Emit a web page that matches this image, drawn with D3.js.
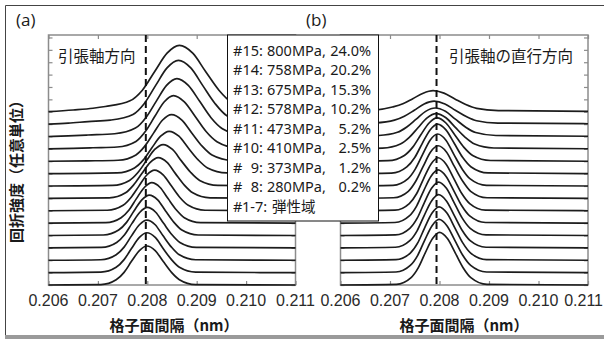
<!DOCTYPE html>
<html>
<head>
<meta charset="utf-8">
<script src="https://cdn.jsdelivr.net/npm/d3@7"></script>
<style>
  html, body { margin: 0; padding: 0; background: #fff; }
  svg { display: block; }
</style>
</head>
<body>
<div id="chart"></div>
<script>
// lattice spacing ticks (nm)
const xTicks = [0.206, 0.207, 0.208, 0.209, 0.210, 0.211];
// profile index #1 .. #15, one vertical unit apart
const yTicks = d3.range(0, 21);
const refSpacing = [0.20797, 0.20794];   // dashed lines (a), (b)

// (a) tensile direction, #1 .. #15 : [d, intensity above own baseline]
const tensileCurves = [
  [[0.206,0],[0.20706,0.03],[0.20737,0.42],[0.20753,1.02],[0.20768,1.91],[0.20784,2.78],[0.20799,3.15],[0.20816,2.78],[0.20832,1.91],[0.20849,1.02],[0.20865,0.43],[0.20898,0.03],[0.211,0]],
  [[0.206,0],[0.20706,0.04],[0.20737,0.43],[0.20753,1.05],[0.20768,1.95],[0.20784,2.84],[0.20799,3.22],[0.20816,2.84],[0.20832,1.95],[0.20849,1.05],[0.20865,0.43],[0.20898,0.04],[0.211,0]],
  [[0.206,0],[0.20706,0.04],[0.20737,0.44],[0.20753,1.06],[0.20768,1.97],[0.20784,2.87],[0.20799,3.25],[0.20816,2.87],[0.20832,1.97],[0.20849,1.06],[0.20865,0.44],[0.20898,0.04],[0.211,0]],
  [[0.206,0],[0.20707,0.04],[0.20738,0.44],[0.20754,1.06],[0.20769,1.98],[0.20785,2.88],[0.20800,3.27],[0.20817,2.88],[0.20833,1.98],[0.20850,1.06],[0.20866,0.44],[0.20899,0.04],[0.211,0]],
  [[0.206,0],[0.20711,0.04],[0.20742,0.44],[0.20758,1.06],[0.20773,1.98],[0.20789,2.88],[0.20804,3.27],[0.20821,2.88],[0.20837,1.98],[0.20854,1.06],[0.20870,0.44],[0.20903,0.04],[0.211,0]],
  [[0.206,0],[0.20716,0.04],[0.20747,0.44],[0.20763,1.06],[0.20778,1.98],[0.20794,2.88],[0.20809,3.27],[0.20826,2.88],[0.20842,1.98],[0.20859,1.06],[0.20875,0.44],[0.20908,0.04],[0.211,0]],
  [[0.206,0],[0.20719,0.04],[0.20751,0.44],[0.20767,1.07],[0.20783,1.99],[0.20799,2.89],[0.20815,3.28],[0.20832,2.89],[0.20849,1.99],[0.20866,1.07],[0.20883,0.44],[0.20917,0.04],[0.211,0]],
  [[0.206,0],[0.20723,0.04],[0.20756,0.45],[0.20772,1.07],[0.20789,2.00],[0.20806,2.91],[0.20822,3.30],[0.20840,2.91],[0.20857,2.00],[0.20875,1.07],[0.20892,0.45],[0.20927,0.04],[0.211,0]],
  [[0.206,0],[0.20730,0.05],[0.20764,0.45],[0.20781,1.09],[0.20798,2.03],[0.20815,2.95],[0.20832,3.35],[0.20851,2.95],[0.20869,2.03],[0.20888,1.09],[0.20906,0.45],[0.20943,0.05],[0.211,0]],
  [[0.206,0],[0.20739,0.06],[0.20774,0.46],[0.20792,1.11],[0.20809,2.07],[0.20827,3.02],[0.20844,3.42],[0.20864,3.02],[0.20883,2.07],[0.20903,1.11],[0.20922,0.46],[0.20961,0.06],[0.211,0]],
  [[0.206,0],[0.2068,0.03],[0.20741,0.08],[0.20777,0.51],[0.20795,1.22],[0.20813,2.29],[0.20831,3.33],[0.20849,3.77],[0.20870,3.33],[0.20890,2.29],[0.20911,1.22],[0.20931,0.51],[0.20972,0.07],[0.211,0]],
  [[0.206,0],[0.2065,0.04],[0.2069,0.09],[0.20739,0.15],[0.20777,0.60],[0.20796,1.40],[0.20815,2.61],[0.20834,3.79],[0.20853,4.30],[0.20875,3.79],[0.20897,2.61],[0.20919,1.40],[0.20941,0.58],[0.20985,0.06],[0.211,0.01]],
  [[0.206,0],[0.2064,0.05],[0.2068,0.12],[0.20734,0.22],[0.20776,0.68],[0.20797,1.52],[0.20818,2.84],[0.20839,4.13],[0.20860,4.68],[0.20883,4.13],[0.20906,2.84],[0.20929,1.52],[0.20952,0.63],[0.20998,0.08],[0.211,0.02]],
  [[0.206,0],[0.2064,0.08],[0.2068,0.20],[0.20725,0.32],[0.20771,0.78],[0.20794,1.67],[0.20817,3.13],[0.20840,4.54],[0.20863,5.15],[0.20888,4.54],[0.20912,3.13],[0.20937,1.67],[0.20961,0.68],[0.21010,0.10],[0.211,0.04]],
  [[0.206,0],[0.2065,0.14],[0.2069,0.28],[0.20715,0.42],[0.20765,0.88],[0.20790,1.74],[0.20815,3.25],[0.20840,4.73],[0.20865,5.36],[0.20892,4.73],[0.20918,3.25],[0.20945,1.74],[0.20971,0.75],[0.21024,0.12],[0.211,0.06]]
];

// (b) perpendicular to tensile axis, #1 .. #15
const transverseCurves = [
  [[0.206,0],[0.20713,0.05],[0.20742,0.57],[0.20757,1.38],[0.20771,2.58],[0.20786,3.75],[0.20800,4.25],[0.20816,3.75],[0.20832,2.58],[0.20848,1.38],[0.20864,0.57],[0.20896,0.05],[0.211,0]],
  [[0.206,0],[0.20712,0.05],[0.20741,0.58],[0.20756,1.40],[0.20770,2.61],[0.20785,3.79],[0.20799,4.30],[0.20815,3.79],[0.20831,2.61],[0.20847,1.40],[0.20863,0.58],[0.20895,0.05],[0.211,0]],
  [[0.206,0],[0.20712,0.05],[0.20741,0.58],[0.20756,1.40],[0.20770,2.62],[0.20785,3.81],[0.20799,4.32],[0.20815,3.81],[0.20831,2.62],[0.20847,1.40],[0.20863,0.58],[0.20895,0.05],[0.211,0]],
  [[0.206,0],[0.20711,0.05],[0.20740,0.58],[0.20755,1.40],[0.20769,2.61],[0.20784,3.79],[0.20798,4.30],[0.20814,3.79],[0.20830,2.61],[0.20846,1.40],[0.20862,0.58],[0.20894,0.05],[0.211,0]],
  [[0.206,0],[0.20711,0.05],[0.20740,0.58],[0.20755,1.40],[0.20769,2.62],[0.20784,3.81],[0.20798,4.32],[0.20814,3.81],[0.20830,2.62],[0.20846,1.40],[0.20862,0.58],[0.20894,0.05],[0.211,0]],
  [[0.206,0],[0.20710,0.05],[0.20739,0.58],[0.20754,1.40],[0.20768,2.61],[0.20783,3.79],[0.20797,4.30],[0.20813,3.79],[0.20829,2.61],[0.20845,1.40],[0.20861,0.58],[0.20893,0.05],[0.211,0]],
  [[0.206,0],[0.20710,0.05],[0.20739,0.58],[0.20754,1.39],[0.20768,2.60],[0.20783,3.78],[0.20797,4.28],[0.20813,3.78],[0.20829,2.60],[0.20845,1.39],[0.20861,0.58],[0.20893,0.05],[0.211,0]],
  [[0.206,0],[0.20707,0.05],[0.20737,0.57],[0.20752,1.38],[0.20767,2.58],[0.20782,3.75],[0.20797,4.25],[0.20814,3.75],[0.20830,2.58],[0.20847,1.38],[0.20863,0.57],[0.20896,0.05],[0.211,0]],
  [[0.206,0],[0.20706,0.05],[0.20736,0.57],[0.20751,1.36],[0.20766,2.55],[0.20781,3.70],[0.20796,4.20],[0.20813,3.70],[0.20829,2.55],[0.20846,1.36],[0.20862,0.57],[0.20895,0.05],[0.211,0]],
  [[0.206,0],[0.20703,0.04],[0.20734,0.54],[0.20750,1.30],[0.20765,2.43],[0.20781,3.53],[0.20796,4.00],[0.20813,3.53],[0.20830,2.43],[0.20847,1.30],[0.20864,0.54],[0.20898,0.06],[0.211,0]],
  [[0.206,0],[0.20696,0.05],[0.20729,0.47],[0.20746,1.14],[0.20762,2.12],[0.20779,3.09],[0.20795,3.50],[0.20813,3.09],[0.20831,2.12],[0.20849,1.14],[0.20867,0.47],[0.20903,0.06],[0.211,0]],
  [[0.206,0],[0.20685,0.06],[0.20721,0.39],[0.20739,0.93],[0.20757,1.73],[0.20775,2.51],[0.20793,2.85],[0.20813,2.51],[0.20832,1.73],[0.20852,0.93],[0.20871,0.39],[0.20910,0.07],[0.211,0.01]],
  [[0.206,0],[0.20677,0.08],[0.20715,0.34],[0.20734,0.77],[0.20753,1.40],[0.20772,2.03],[0.20791,2.30],[0.20812,2.03],[0.20832,1.40],[0.20853,0.75],[0.20873,0.32],[0.20914,0.08],[0.211,0.02]],
  [[0.206,0],[0.20669,0.09],[0.20709,0.32],[0.20729,0.64],[0.20749,1.12],[0.20769,1.63],[0.20789,1.85],[0.20811,1.63],[0.20832,1.12],[0.20854,0.61],[0.20875,0.27],[0.20918,0.08],[0.211,0.03]],
  [[0.206,0],[0.20664,0.10],[0.20705,0.38],[0.20726,0.64],[0.20746,1.05],[0.20767,1.50],[0.20787,1.70],[0.20809,1.50],[0.20831,1.03],[0.20853,0.58],[0.20875,0.27],[0.20919,0.09],[0.211,0.03]]
];

const legendIds = ["15", "14", "13", "12", "11", "10", "9", "8", "1-7"];
const legendStress = ["800MPa,", "758MPa,", "675MPa,", "578MPa,", "473MPa,", "410MPa,", "373MPa,", "280MPa,", "弾性域"];
const legendStrain = ["24.0%", "20.2%", "15.3%", "10.2%", "5.2%", "2.5%", "1.2%", "0.2%", ""];

const W = 604, H = 340;
const jp = "'Noto Sans CJK JP', 'Noto Sans', sans-serif";
const lat = "'Liberation Sans', Arial, sans-serif";
const frameColor = "#8c8c8c";

const svg = d3.select("#chart").append("svg")
  .attr("width", W)
  .attr("height", H);

// outer border
svg.append("path")
  .attr("d", `M5.5,${H - 4} V5.5 H${W}`)
  .attr("fill", "none")
  .attr("stroke", "#444")
  .attr("stroke-width", 1);
svg.append("rect")
  .attr("x", 5).attr("y", H - 5)
  .attr("width", W - 5).attr("height", 4)
  .attr("fill", "#9a9a9a");

const y = d3.scaleLinear().domain([0, 20.2]).range([285, 35]);

const panels = [
  {label: "(a)", labelX: 16, range: [48.5, 295.5], data: tensileCurves, ref: refSpacing[0],
    title: "引張軸方向", titleX: 58, titleAnchor: "start", axisX: 174},
  {label: "(b)", labelX: 306, range: [340.5, 588], data: transverseCurves, ref: refSpacing[1],
    title: "引張軸の直行方向", titleX: 573, titleAnchor: "end", axisX: 464}
];

panels.forEach(p => {
  const x = d3.scaleLinear().domain([0.206, 0.211]).range(p.range);
  const g = svg.append("g");

  const line = d3.line()
    .x(d => x(d[0]))
    .curve(d3.curveMonotoneX);

  // frame
  g.append("rect")
    .attr("x", p.range[0]).attr("y", y(20.2))
    .attr("width", p.range[1] - p.range[0])
    .attr("height", y(0) - y(20.2))
    .attr("fill", "none")
    .attr("stroke", frameColor)
    .attr("stroke-width", 1.5);

  // inward ticks on all four sides
  g.append("g")
    .attr("transform", `translate(0,${y(0)})`)
    .call(d3.axisBottom(x).tickValues(xTicks).tickSize(-4).tickFormat(""))
    .call(a => a.select(".domain").remove())
    .selectAll("line").attr("stroke", frameColor).attr("stroke-width", 1.2);
  g.append("g")
    .attr("transform", `translate(0,${y(20.2)})`)
    .call(d3.axisTop(x).tickValues(xTicks).tickSize(-4).tickFormat(""))
    .call(a => a.select(".domain").remove())
    .selectAll("line").attr("stroke", frameColor).attr("stroke-width", 1.2);
  g.append("g")
    .attr("transform", `translate(${p.range[0]},0)`)
    .call(d3.axisLeft(y).tickValues(yTicks).tickSize(-4).tickFormat(""))
    .call(a => a.select(".domain").remove())
    .selectAll("line").attr("stroke", frameColor).attr("stroke-width", 1.2);
  g.append("g")
    .attr("transform", `translate(${p.range[1]},0)`)
    .call(d3.axisRight(y).tickValues(yTicks).tickSize(-4).tickFormat(""))
    .call(a => a.select(".domain").remove())
    .selectAll("line").attr("stroke", frameColor).attr("stroke-width", 1.2);

  // tick labels, kept inside the picture
  g.selectAll("text.tick-label")
    .data(xTicks)
    .join("text")
    .attr("class", "tick-label")
    .attr("x", d => x(d))
    .attr("y", 306)
    .attr("text-anchor", "middle")
    .attr("font-family", lat)
    .attr("font-size", 16)
    .attr("fill", "#2a2a2a")
    .text(d3.format(".3f"))
    .each(function (d) {
      const half = this.getComputedTextLength() / 2;
      const cx = Math.min(x(d), W - 1 - half);
      d3.select(this).attr("x", cx);
    });

  // stacked profiles
  g.selectAll("path.profile")
    .data(p.data)
    .join("path")
    .attr("class", "profile")
    .attr("d", (d, i) => line.y(v => y(v[1] + i))(d))
    .attr("fill", "none")
    .attr("stroke", "#1c1c1c")
    .attr("stroke-width", 1.7);

  // reference spacing
  g.append("line")
    .attr("x1", x(p.ref)).attr("x2", x(p.ref))
    .attr("y1", y(20.2)).attr("y2", y(0))
    .attr("stroke", "#111")
    .attr("stroke-width", 2)
    .attr("stroke-dasharray", "7,4");

  g.append("text")
    .attr("x", p.titleX).attr("y", 62)
    .attr("text-anchor", p.titleAnchor)
    .attr("font-family", jp)
    .attr("font-size", 15.5)
    .attr("fill", "#1a1a1a")
    .text(p.title);

  svg.append("text")
    .attr("x", p.labelX).attr("y", 26)
    .attr("font-family", "'Open Sans', 'Noto Sans', sans-serif")
    .attr("font-size", 17)
    .attr("fill", "#1a1a1a")
    .text(p.label);

  svg.append("text")
    .attr("x", p.axisX).attr("y", 331)
    .attr("text-anchor", "middle")
    .attr("font-family", jp)
    .attr("font-weight", "bold")
    .attr("font-size", 15)
    .attr("fill", "#1a1a1a")
    .text("格子面間隔（nm）");
});

// y axis title
svg.append("text")
  .attr("transform", "translate(22,168) rotate(-90)")
  .attr("text-anchor", "middle")
  .attr("font-family", jp)
  .attr("font-weight", "bold")
  .attr("font-size", 15)
  .attr("fill", "#1a1a1a")
  .text("回折強度（任意単位）");

// legend box
const legend = svg.append("g");
legend.append("rect")
  .attr("x", 227.5).attr("y", 35)
  .attr("width", 151).attr("height", 186)
  .attr("fill", "#fff")
  .attr("stroke", "#111")
  .attr("stroke-width", 1);

const rowY = d3.scaleLinear().domain([0, 8]).range([55.5, 212]);
const last = legendIds.length - 1;
const rows = legend.selectAll("g.row")
  .data(legendIds)
  .join("g")
  .attr("class", "row")
  .attr("font-family", "'Noto Sans', " + jp)
  .attr("font-size", 14.5)
  .attr("fill", "#1a1a1a");

rows.append("text")
  .attr("x", 233).attr("y", (d, i) => rowY(i))
  .text("#");
rows.append("text")
  .attr("x", (d, i) => i === last ? 242 : 263)
  .attr("y", (d, i) => rowY(i))
  .attr("text-anchor", (d, i) => i === last ? "start" : "end")
  .text(d => d + ":");
rows.append("text")
  .attr("x", (d, i) => i === last ? 272 : 267)
  .attr("y", (d, i) => rowY(i))
  .attr("font-family", (d, i) => i === last ? jp : null)
  .text((d, i) => legendStress[i]);
rows.append("text")
  .attr("x", 371).attr("y", (d, i) => rowY(i))
  .attr("text-anchor", "end")
  .text((d, i) => legendStrain[i]);
</script>
</body>
</html>
